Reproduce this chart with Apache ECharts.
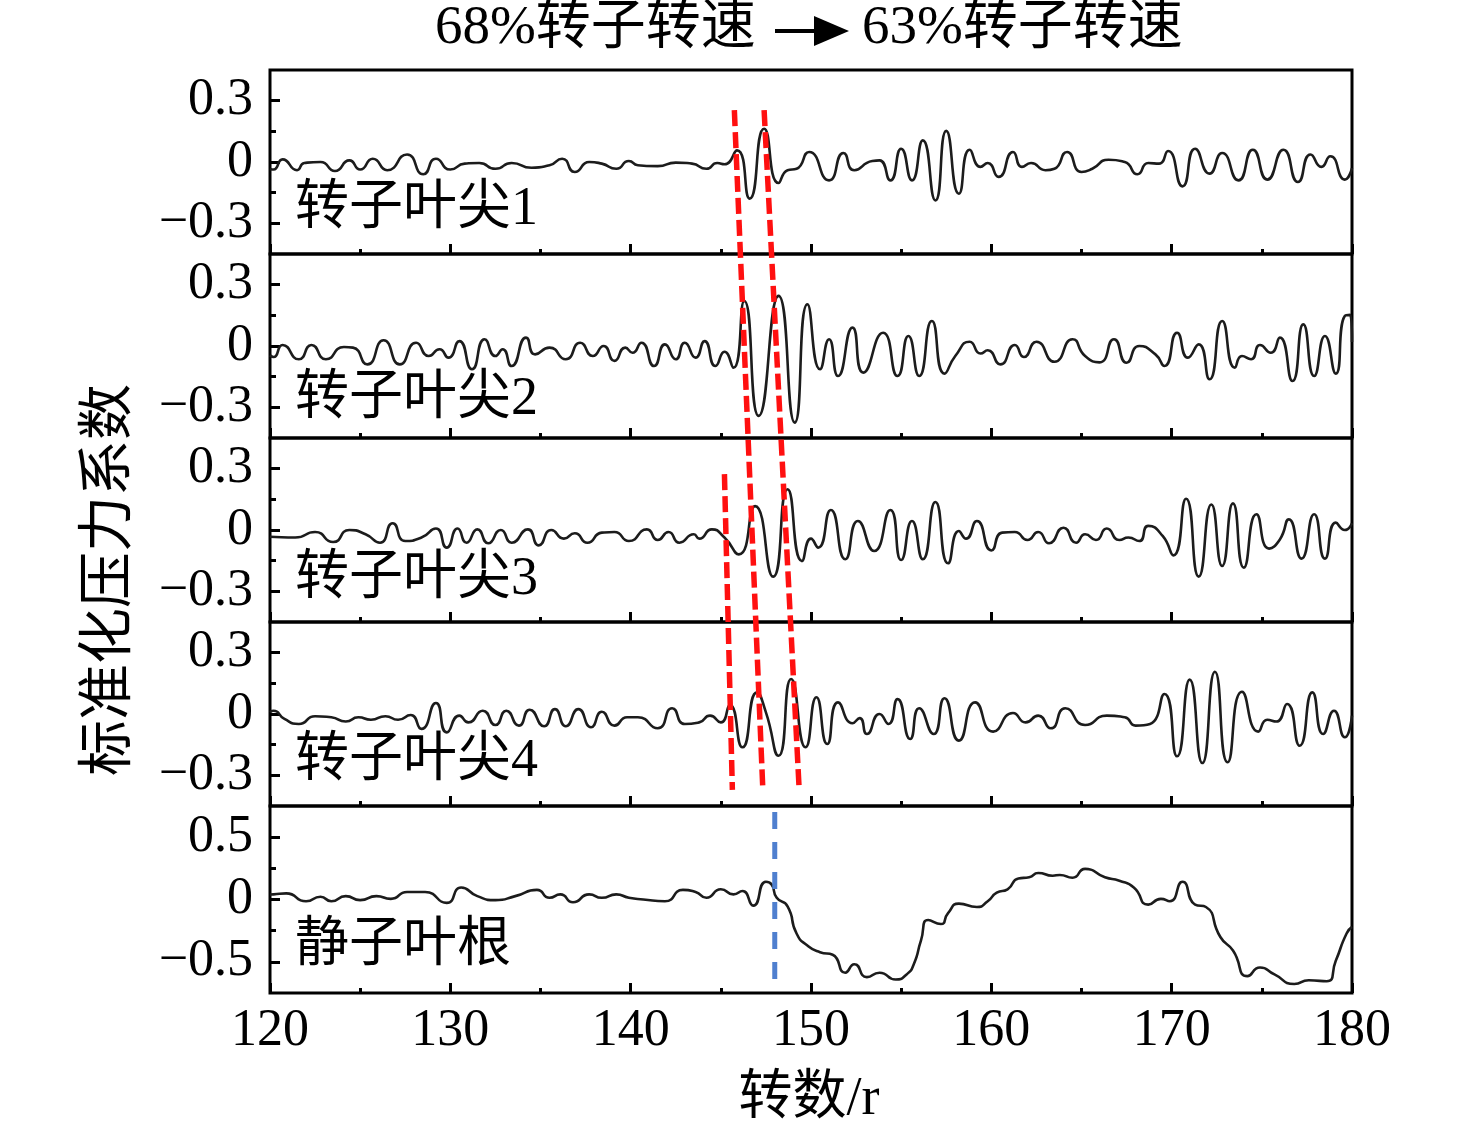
<!DOCTYPE html>
<html>
<head>
<meta charset="utf-8">
<script src="https://cdn.jsdelivr.net/npm/echarts@6/dist/echarts.min.js"></script>
<style>
html,body{margin:0;padding:0;background:#fff;}
#chart{width:1476px;height:1138px;}
</style>
</head>
<body>
<div id="chart"></div>
<script>
// ---------------- data (x: 转数 r, y: 标准化压力系数) ----------------
const tip1 = [[120.0,-0.034],[120.2,-0.037],[120.7,0.013],[121.5,-0.04],[121.9,-0.005],[122.8,0],[123.6,-0.044],[124.4,0.008],[125.0,-0.037],[125.7,0.016],[126.5,-0.04],[127.6,0.037],[128.5,-0.06],[129.2,0.016],[130.0,-0.037],[130.8,-0.008],[131.6,-0.005],[132.5,-0.033],[133.4,-0.005],[134.5,-0.028],[135.5,-0.016],[136.2,0.016],[136.9,-0.049],[137.7,0],[138.4,-0.008],[139.2,-0.033],[139.9,0.005],
[140.4,-0.016],[141.5,-0.02],[142.5,-0.003],[143.4,-0.008],[144.2,-0.033],[144.8,-0.005],[145.2,-0.011],[145.9,0.057],[146.6,-0.179],[147.4,0.163],[148.2,-0.103],[148.7,-0.04],[149.2,-0.033],[149.9,0.049],[151.0,-0.09],[151.8,0.044],[152.4,-0.04],[153.4,0.005],[153.8,0.008],[154.4,-0.09],[155.0,0.065],[155.6,-0.09],[156.2,0.106],[156.9,-0.188],[157.5,0.152],[158.2,-0.155],[158.8,0.06],[159.4,-0.024],[159.8,-0.005],
[160.4,-0.073],[161.2,0.049],[161.7,-0.024],[162.2,-0.005],[163.0,-0.04],[163.5,-0.033],[164.2,0.049],[165.0,-0.049],[165.6,-0.033],[166.5,0.011],[167.4,0],[168.1,-0.06],[168.7,-0.005],[169.3,-0.008],[169.8,0.054],[170.6,-0.119],[171.3,0.065],[172.1,-0.057],[172.8,0.044],[173.7,-0.09],[174.5,0.06],[175.3,-0.086],[176.2,0.06],[177.0,-0.098],[177.7,0.037],[178.3,-0.024],[178.8,0.028],[179.6,-0.086],[180.0,-0.03]];

const tip2 = [[120.0,-0.045],[120.2,-0.054],[120.7,0.005],[121.6,-0.065],[122.3,0.005],[123.1,-0.065],[124.1,-0.005],[124.6,-0.008],[125.4,-0.09],[126.3,0.028],[127.2,-0.09],[128.1,0.016],[128.8,-0.049],[129.4,-0.016],[129.9,-0.057],[130.5,0.024],[131.2,-0.114],[131.9,0.033],[132.5,-0.049],[132.9,-0.016],[133.4,-0.098],[134.2,0.041],[134.7,-0.041],[135.5,-0.008],[136.4,-0.065],[137.2,0.016],[137.9,-0.049],[138.5,0],[139.1,-0.073],[139.7,-0.008],
[140.1,-0.033],[140.6,0.016],[141.3,-0.098],[141.9,0.008],[142.5,-0.065],[143.0,0.016],[143.6,-0.057],[144.1,0.024],[144.7,-0.098],[145.2,-0.028],[145.7,-0.106],[146.3,0.22],[147.1,-0.342],[148.2,0.245],[149.1,-0.375],[149.8,0.204],[150.5,-0.114],[151.0,0.033],[151.5,-0.147],[152.3,0.09],[152.9,-0.13],[154.0,0.065],[154.8,-0.147],[155.4,0.049],[156.0,-0.147],[156.7,0.122],[157.4,-0.135],[158.0,-0.049],[158.8,0.021],[159.4,-0.037],[159.8,-0.021],
[160.5,-0.09],[161.3,0.005],[161.8,-0.054],[162.5,0.021],[163.5,-0.077],[164.5,0.033],[165.2,-0.049],[166.0,-0.08],[166.8,0.033],[167.5,-0.082],[168.2,0],[169.1,-0.041],[169.6,-0.098],[170.3,0.065],[170.9,-0.057],[171.5,0.008],[172.1,-0.163],[172.8,0.122],[173.5,-0.106],[173.9,-0.049],[174.4,-0.065],[174.9,0.005],[175.5,-0.033],[176.0,0.041],[176.7,-0.171],[177.3,0.106],[177.9,-0.147],[178.5,0.049],[179.1,-0.135],[179.6,0.147],[179.9,0.152],[180.0,0.02]];

const tip3 = [[120.0,-0.033],[121.4,-0.037],[122.5,-0.01],[123.5,-0.059],[124.4,0],[125.3,-0.021],[126.1,-0.062],[126.8,0.033],[127.5,-0.054],[128.4,-0.037],[129.2,0.007],[129.8,-0.086],[130.4,0.007],[130.9,-0.062],[131.5,0.003],[132.1,-0.065],[132.8,0],[133.4,-0.062],[134.3,0.003],[134.9,-0.075],[135.6,0],[136.3,-0.042],[136.9,-0.016],[137.6,-0.062],[138.4,-0.013],[139.1,-0.01],[139.9,-0.054],
[140.9,0.003],[141.5,-0.049],[142.1,-0.01],[142.7,-0.062],[143.5,-0.021],[143.8,-0.042],[144.5,0.003],[145.2,-0.037],[146.0,-0.119],[146.9,0.117],[147.9,-0.228],[148.7,0.199],[149.5,-0.152],[150.0,-0.042],[150.4,-0.086],[151.1,0.098],[151.9,-0.143],[152.6,0.044],[153.5,-0.103],[154.4,0.098],[155.0,-0.147],[155.6,0.044],[156.2,-0.143],[156.9,0.137],[157.6,-0.163],[158.2,-0.005],[158.6,-0.042],[159.2,0.044],[160.0,-0.1],
[160.6,-0.013],[161.3,-0.01],[162.0,-0.049],[162.6,-0.01],[163.2,-0.065],[164.0,0.011],[164.7,-0.062],[165.2,-0.021],[165.8,-0.049],[166.4,0.007],[167.1,-0.049],[167.6,-0.037],[168.2,-0.054],[168.7,0.02],[169.5,-0.029],[170.1,-0.124],[170.8,0.153],[171.5,-0.228],[172.2,0.125],[172.8,-0.176],[173.4,0.13],[174.0,-0.184],[174.7,0.077],[175.4,-0.091],[176.0,-0.046],[176.5,0.052],[177.2,-0.14],[177.9,0.077],[178.5,-0.14],[179.1,0.036],[179.6,0],[180.0,0.033]];

const tip4 = [[120.0,0.01],[120.2,0.016],[120.8,-0.024],[121.6,-0.049],[122.5,-0.011],[123.4,-0.016],[124.2,-0.037],[124.9,-0.016],[125.6,-0.028],[126.4,-0.011],[127.1,-0.028],[127.8,-0.005],[128.4,-0.073],[129.2,0.054],[129.8,-0.09],[130.5,-0.008],[131.0,-0.041],[131.8,0.016],[132.5,-0.054],[133.1,0.016],[133.8,-0.057],[134.4,0.021],[135.2,-0.06],[135.8,0.024],[136.4,-0.06],[137.1,0.024],[137.8,-0.065],[138.4,0.011],[139.1,-0.057],[139.8,-0.016],
[140.4,-0.016],[141.5,-0.07],[142.3,0.028],[143.0,-0.049],[143.8,-0.041],[144.4,-0.008],[145.0,-0.041],[145.5,0.044],[146.2,-0.163],[147.0,0.106],[147.5,0.008],[148.2,-0.204],[148.9,0.171],[149.7,-0.163],[150.3,0.082],[150.9,-0.147],[151.5,0.057],[152.3,-0.045],[152.7,-0.02],[153.1,-0.098],[153.8,0],[154.3,-0.049],[154.8,0.073],[155.5,-0.122],[156.0,0.028],[156.8,-0.098],[157.4,0.077],[158.2,-0.13],[159.1,0.057],
[160.1,-0.086],[161.2,0.005],[161.9,-0.041],[162.6,-0.008],[163.3,-0.07],[164.1,0.028],[165.2,-0.054],[166.4,-0.008],[167.4,-0.016],[168.0,-0.057],[168.8,-0.049],[169.6,0.098],[170.3,-0.207],[171.0,0.168],[171.7,-0.24],[172.4,0.207],[173.1,-0.236],[173.9,0.109],[174.8,-0.086],[175.3,-0.028],[175.8,-0.037],[176.4,0.049],[177.1,-0.155],[177.8,0.106],[178.4,-0.098],[179.0,0.016],[179.6,-0.114],[180.0,-0.008]];

const root = [[120.0,0.04],[120.2,0.041],[120.9,0.049],[122.0,-0.014],[122.8,0.022],[123.4,-0.014],[124.2,0.027],[125.0,-0.005],[125.9,0.027],[126.7,0.005],[127.6,0.06],[128.6,0.06],[129.8,-0.027],[130.6,0.096],[131.5,0.027],[132.5,-0.005],[133.6,0.027],[134.8,0.077],[135.5,0.014],[136.1,0.041],[136.8,-0.022],[137.7,0.041],[138.4,0.014],[139.2,0.041],[139.9,0.014],[140.7,0],[141.9,-0.014],[142.9,0.077],[143.6,0.06],[144.2,0.014],[145.0,0.082],[145.7,0.041],[146.2,0.068],[146.8,-0.049],[147.5,0.142],[147.8,0.123],[148.1,0.014],[148.7,-0.055],[149.2,-0.273],[149.8,-0.369],
[150.5,-0.423],[151.2,-0.443],[151.9,-0.587],[152.4,-0.519],[153.1,-0.623],[153.8,-0.587],[154.7,-0.642],[155.3,-0.601],[155.7,-0.519],[156.1,-0.328],[156.5,-0.164],[157.2,-0.197],[157.6,-0.109],[158.2,-0.033],[159.2,-0.06],[159.8,-0.014],[160.3,0.055],[160.9,0.082],[161.5,0.169],[162.1,0.178],[162.6,0.213],[163.4,0.191],[163.8,0.197],[164.5,0.175],[165.2,0.246],[166.3,0.178],[167.1,0.15],[167.9,0.096],[168.7,-0.041],[169.4,0.005],[169.9,-0.014],[170.6,0.142],[171.3,-0.041],[171.9,-0.06],[172.7,-0.301],[173.4,-0.41],[174.2,-0.615],[174.9,-0.546],[175.7,-0.601],[176.8,-0.678],[177.6,-0.648],[178.6,-0.656],[179.1,-0.492],[179.7,-0.273],[180.0,-0.22]];

const panelNames = ['转子叶尖1','转子叶尖2','转子叶尖3','转子叶尖4','静子叶根'];
const tipRange = [-0.45, 0.45];      // panels 1-4
const tipMajor = [-0.3, 0, 0.3];
const tipMinor = [-0.15, 0.15];
const rootRange = [-0.75, 0.75];     // panel 5
const rootMajor = [-0.5, 0, 0.5];
const rootMinor = [-0.25, 0.25];
const xRange = [120, 180];
const xStep = 10;

// annotation lines (x in r; y in stacked-panel units: 0 = bottom of panel 5, 5 = top of panel 1)
const redLines = [
  [[145.75, 4.783], [147.33, 1.100]],
  [[147.40, 4.783], [149.34, 1.111]],
  [[145.20, 2.811], [145.64, 1.100]]
];
const blueLine = [[147.99, 0.981], [147.99, 0.075]];

const titleLeft = '68%转子转速';
const titleRight = '63%转子转速';
const yTitle = '标准化压力系数';
const xTitle = '转数/r';

// ---------------- layout ----------------
const FONT = "'Liberation Serif','Noto Sans CJK SC',serif";
const L = 270, R = 124;
const tops = [70, 254, 438, 622, 806];
const heights = [184, 184, 184, 184, 187];
const series = [tip1, tip2, tip3, tip4, root];

function fmt(v){
  if (Math.abs(v) < 1e-9) return '0';
  return (v < 0 ? '\u2212' : '') + Math.abs(v).toFixed(1);
}

const grid = [], xAxis = [], yAxis = [], seriesOpt = [];
for (let i = 0; i < 5; i++) {
  const isRoot = i === 4;
  const rng = isRoot ? rootRange : tipRange;
  const major = isRoot ? rootMajor : tipMajor;
  const minor = isRoot ? rootMinor : tipMinor;
  grid.push({left: L, right: R, top: tops[i], height: heights[i], show: true, borderColor: '#000', borderWidth: 3, backgroundColor: 'transparent'});
  xAxis.push({
    type: 'value', gridIndex: i, min: xRange[0], max: xRange[1], interval: xStep, position: 'bottom',
    axisLine: {show: false, onZero: false},
    axisTick: {show: true, inside: true, length: 10, lineStyle: {color: '#000', width: 3}},
    minorTick: {show: true, splitNumber: 2, length: 5, lineStyle: {color: '#000', width: 3}},
    splitLine: {show: false}, minorSplitLine: {show: false},
    axisLabel: {show: isRoot, color: '#000', fontFamily: FONT, fontSize: 52, margin: 12,
      showMinLabel: true, showMaxLabel: true}
  });
  yAxis.push({
    type: 'value', gridIndex: i, min: rng[0], max: rng[1], position: 'left',
    axisLine: {show: false, onZero: false}, splitLine: {show: false},
    axisTick: {show: true, inside: true, length: 10, customValues: major, lineStyle: {color: '#000', width: 3}},
    axisLabel: {show: true, customValues: major, color: '#000', fontFamily: FONT, fontSize: 52, margin: 17,
      formatter: fmt}
  });
  yAxis.push({
    type: 'value', gridIndex: i, min: rng[0], max: rng[1], position: 'left',
    axisLine: {show: false, onZero: false}, splitLine: {show: false}, axisLabel: {show: false},
    axisTick: {show: true, inside: true, length: 6, customValues: minor, lineStyle: {color: '#000', width: 3}}
  });
  seriesOpt.push({
    type: 'line', xAxisIndex: i, yAxisIndex: i * 2, data: series[i],
    smooth: 0.6, symbol: 'none', silent: true, z: 3,
    lineStyle: {color: '#1c1c1c', width: 2.6}
  });
}

// overlay grid for annotation lines
grid.push({left: L, right: R, top: 70, bottom: 1138 - 993, show: false});
xAxis.push({type: 'value', gridIndex: 5, min: xRange[0], max: xRange[1], show: false});
yAxis.push({type: 'value', gridIndex: 5, min: 0, max: 5, show: false});
redLines.forEach(function(seg){
  seriesOpt.push({type: 'line', xAxisIndex: 5, yAxisIndex: 10, data: seg, symbol: 'none', silent: true, z: 10,
    lineStyle: {color: '#ff1010', width: 5.5, type: [16, 6]}});
});
seriesOpt.push({type: 'line', xAxisIndex: 5, yAxisIndex: 10, data: blueLine, symbol: 'none', silent: true, z: 10,
  lineStyle: {color: '#4f7fcf', width: 5, type: [17, 13]}});

// texts
const labelY = [210, 400, 580, 762, 947];
const graphic = [];
panelNames.forEach(function(n, i){
  graphic.push({type: 'text', x: 295, y: labelY[i], z: 20,
    style: {text: n, fontFamily: FONT, fontSize: 54, fill: '#000', textAlign: 'left', textVerticalAlign: 'middle'}});
});
graphic.push({type: 'text', x: 435, y: 29, style: {text: titleLeft, fontFamily: FONT, fontSize: 55, fill: '#000', textAlign: 'left', textVerticalAlign: 'middle'}});
graphic.push({type: 'line', shape: {x1: 775, y1: 31, x2: 820, y2: 31}, style: {stroke: '#000', lineWidth: 4}});
graphic.push({type: 'polygon', shape: {points: [[814, 16], [849, 31], [814, 46]]}, style: {fill: '#000'}});
graphic.push({type: 'text', x: 862, y: 29, style: {text: titleRight, fontFamily: FONT, fontSize: 55, fill: '#000', textAlign: 'left', textVerticalAlign: 'middle'}});
graphic.push({type: 'text', x: 110, y: 580, rotation: Math.PI / 2,
  style: {text: yTitle, fontFamily: FONT, fontSize: 56, fill: '#000', textAlign: 'center', textVerticalAlign: 'middle'}});
graphic.push({type: 'text', x: 809, y: 1100,
  style: {text: xTitle, fontFamily: FONT, fontSize: 54, fill: '#000', textAlign: 'center', textVerticalAlign: 'middle'}});

const chart = echarts.init(document.getElementById('chart'), null, {renderer: 'canvas'});
chart.setOption({
  backgroundColor: '#fff',
  animation: false,
  grid: grid, xAxis: xAxis, yAxis: yAxis, series: seriesOpt, graphic: graphic
});
</script>
</body>
</html>
